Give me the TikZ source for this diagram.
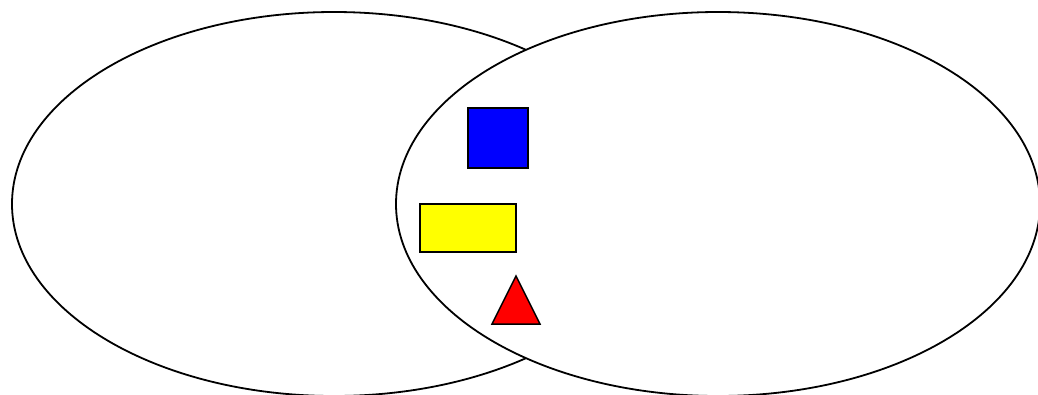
\documentclass[tikz,border=0pt]{standalone}
\usepackage{tikz}

\definecolor{boxyellow}{RGB}{255,255,0}
\definecolor{boxblue}{RGB}{0,0,255}
\definecolor{boxred}{RGB}{255,0,0}

\begin{document}
\begin{tikzpicture}[x=1pt, y=-1pt,
    setline/.style={line width=1.8pt, black},
    shapeline/.style={line width=1.5pt, black}]
  \useasboundingbox (0,0) rectangle (1038,394);
  \begin{scope}
    \clip (0,0) rectangle (1038,394);
    % left set, then right set drawn over it
    \draw[setline] (334,204) ellipse [x radius=322, y radius=192];
    \filldraw[setline, fill=white] (718,204) ellipse [x radius=322, y radius=192];
  \end{scope}
  \filldraw[shapeline, fill=boxblue]   (468,108) rectangle (528,168);
  \filldraw[shapeline, fill=boxyellow] (420,204) rectangle (516,252);
  \filldraw[shapeline, fill=boxred]    (516,276) -- (540,324) -- (492,324) -- cycle;
\end{tikzpicture}
\end{document}
